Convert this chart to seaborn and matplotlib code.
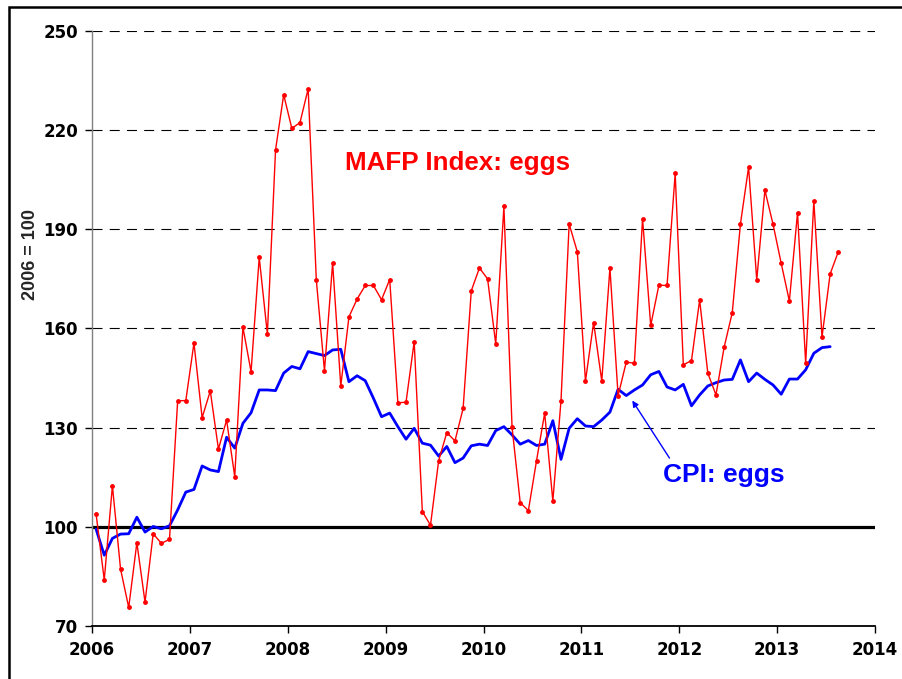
import numpy as np
import pandas as pd
import matplotlib
matplotlib.use('Agg')
import matplotlib.pyplot as plt
import seaborn as sns
from matplotlib.patches import Rectangle

sns.set_style("white")
plt.rcParams['font.family'] = ['Liberation Sans', 'DejaVu Sans']
plt.rcParams['font.weight'] = 'bold'

# Monthly series, Jan 2006 onwards (2006 = 100)
start_year = 2006
mafp_eggs = [
    103.9, 83.9, 112.4, 87.2, 75.6, 95.2, 77.2, 97.9, 95.0, 96.2, 138.1, 138.2,
    155.6, 133.0, 141.1, 123.5, 132.3, 115.2, 160.4, 146.9, 181.5, 158.3, 214.0, 230.7,
    220.5, 222.3, 232.5, 174.7, 147.2, 179.8, 142.6, 163.5, 168.9, 173.0, 173.0, 168.7,
    174.8, 137.5, 137.7, 156.0, 104.6, 100.5, 120.0, 128.5, 126.0, 135.8, 171.4, 178.3,
    175.0, 155.3, 196.9, 130.1, 107.3, 104.9, 120.0, 134.4, 107.8, 138.1, 191.6, 183.2,
    144.1, 161.8, 144.1, 178.3, 139.7, 149.8, 149.5, 193.2, 160.9, 173.1, 173.0, 206.9,
    149.0, 150.3, 168.6, 146.5, 139.9, 154.3, 164.8, 191.6, 208.8, 174.7, 201.8, 191.5,
    179.7, 168.3, 195.0, 149.5, 198.6, 157.4, 176.5, 183.2,
]
cpi_eggs = [
    99.3, 91.4, 96.5, 97.8, 97.9, 102.9, 98.4, 100.1, 99.4, 100.3, 105.1, 110.5,
    111.3, 118.4, 117.2, 116.7, 127.1, 123.8, 131.3, 134.5, 141.4, 141.4, 141.2, 146.5,
    148.5, 147.8, 153.0, 152.4, 151.8, 153.5, 153.7, 143.9, 145.7, 144.2, 138.9, 133.3,
    134.4, 130.3, 126.5, 129.8, 125.3, 124.7, 121.4, 124.3, 119.4, 120.8, 124.5, 125.0,
    124.6, 129.1, 130.3, 127.8, 125.0, 126.1, 124.6, 125.0, 132.1, 120.4, 129.8, 132.7,
    130.5, 130.3, 132.3, 134.7, 141.6, 139.7, 141.4, 142.9, 146.0, 147.0, 142.3, 141.4,
    143.1, 136.6, 139.9, 142.6, 143.6, 144.4, 144.6, 150.5, 143.9, 146.5, 144.6, 142.9,
    140.1, 144.7, 144.7, 147.5, 152.5, 154.2, 154.5,
]
x_ticks = [2006, 2007, 2008, 2009, 2010, 2011, 2012, 2013, 2014]
y_ticks = [70, 100, 130, 160, 190, 220, 250]

# decimal year at mid-month
mafp_x = [start_year + (i + 0.5) / 12 for i in range(len(mafp_eggs))]
cpi_x = [start_year + (i + 0.5) / 12 for i in range(len(cpi_eggs))]

fig = plt.figure(figsize=(9.03, 6.79), dpi=100)
ax = fig.add_axes([0.1019, 0.0781, 0.8671, 0.8763])

ax.set_xlim(2006, 2014)
ax.set_ylim(70, 250)
ax.set_xticks(x_ticks)
ax.set_yticks(y_ticks)

# dashed grid + heavy base line at 100
ax.grid(axis='y', color='black', lw=0.8, linestyle=(0, (9, 6.5)), zorder=0)
ax.grid(axis='x', visible=False)
ax.axhline(100, color='black', lw=2.3, zorder=1.5)

sns.lineplot(x=cpi_x, y=cpi_eggs, ax=ax, color='#0000ff', lw=2.0, zorder=2)
sns.lineplot(x=mafp_x, y=mafp_eggs, ax=ax, color='#ff0000', lw=1.0,
             marker='o', markersize=3.5, markeredgewidth=0, zorder=3)

for side in ['top', 'right']:
    ax.spines[side].set_visible(False)
ax.spines['left'].set_color('#808080')
ax.spines['left'].set_linewidth(1.0)
ax.spines['bottom'].set_color('black')
ax.spines['bottom'].set_linewidth(1.3)

ax.tick_params(axis='both', which='major', direction='out', length=5, width=1,
               bottom=True, left=True, colors='black')
ax.tick_params(axis='y', pad=5)
ax.tick_params(axis='x', pad=6)
for lab in ax.get_xticklabels() + ax.get_yticklabels():
    lab.set_fontweight('bold')
    lab.set_family('DejaVu Sans')
    lab.set_fontsize(12)

ax.set_ylabel('2006 = 100', fontsize=13, fontweight='bold')
ax.yaxis.set_label_coords(-0.068, 0.624)

ax.text(2008.584, 210.1, 'MAFP Index: eggs', color='#ff0000', fontsize=18.7,
        fontweight='bold', va='center', ha='left')
ax.text(2011.833, 115.7, 'CPI: eggs', color='#0000ff', fontsize=19,
        fontweight='bold', va='center', ha='left')
ax.annotate('', xy=(2011.52, 138.2), xytext=(2011.90, 120.8),
            arrowprops=dict(arrowstyle='-|>', color='#0000ff', lw=1.0,
                            mutation_scale=9, shrinkA=0, shrinkB=0))

# outer frame
fig.add_artist(Rectangle((0.0105, -0.1), 1.2, 0.9897 + 0.1, transform=fig.transFigure,
                         fill=False, ec='black', lw=1.8, clip_on=False))

fig.savefig('out.png', dpi=100)
